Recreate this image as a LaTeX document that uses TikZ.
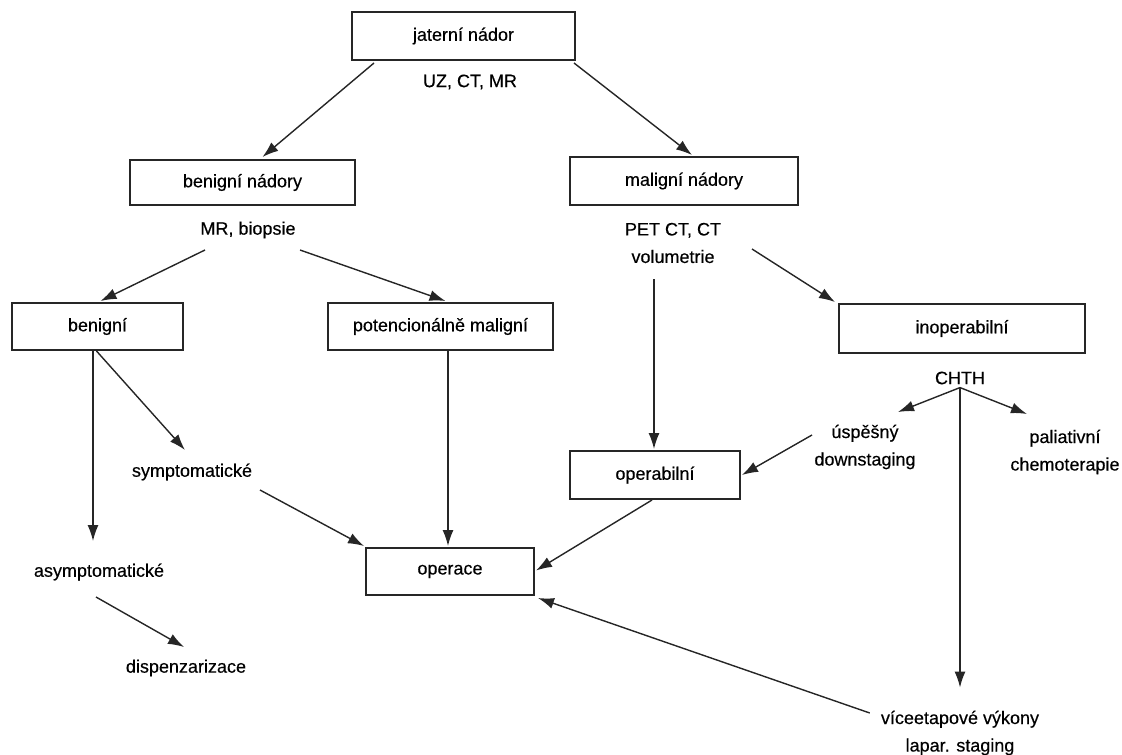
\documentclass[tikz,border=0pt]{standalone}
\usepackage{fontspec}
\setmainfont{Liberation Sans}
\newfontfamily\dfont{Liberation Sans}[FakeBold=0.35]
\usetikzlibrary{arrows.meta,calc}
\begin{document}
\begin{tikzpicture}[x=1pt,y=-1pt,
  font=\dfont\fontsize{18}{27.5}\selectfont,
  box/.style={draw=black!85, line width=2pt, inner sep=0pt},
  lbl/.style={inner sep=1pt, align=center},
  arr/.style={-{Latex[length=16pt,width=11pt]}, line width=1.4pt, draw=black!85, fill=black}]
\useasboundingbox (0,0) rectangle (1122,755);
% boxes
\node[box, minimum width=223, minimum height=48] (jat) at (463.5,36) {jaterní nádor};
\node[box, minimum width=225, minimum height=45] (bn) at (242.5,182.5) {benigní nádory};
\node[box, minimum width=228, minimum height=48] (mn) at (684,181) {maligní nádory};
\node[box, minimum width=171, minimum height=47] (b) at (97.5,326.5) {benigní};
\node[box, minimum width=225, minimum height=47] (pm) at (440.5,326.5) {potencionálně maligní};
\node[box, minimum width=246, minimum height=49] (inop) at (962,328.5) {inoperabilní};
\node[box, minimum width=170, minimum height=48] (op) at (655,475) {operabilní};
\node[box, minimum width=168, minimum height=47] (oper) at (450,571.5) {operace};
% labels
\node[lbl] (uz) at (470,82) {UZ, CT, MR};
\node[lbl] (mrb) at (248,230) {MR, biopsie};
\node[lbl] (pet) at (673,243) {PET CT, CT\\volumetrie};
\node[lbl] (chth) at (960,378) {CHTH};
\node[lbl] (usp) at (865,447) {úspěšný\\downstaging};
\node[lbl] (pal) at (1065,452) {paliativní\\chemoterapie};
\node[lbl] (sym) at (192,472) {symptomatické};
\node[lbl] (asym) at (99,572) {asymptomatické};
\node[lbl] (disp) at (186,668) {dispenzarizace};
\node[lbl] (vice) at (960,733) {víceetapové výkony\\lapar. staging};
% connectors
\draw[arr] ($(jat.south west)+(23,2)$) -- ($(bn.north)+(20,-2)$);
\draw[arr] ($(jat.south east)+(-2,2)$) -- ($(mn.north)+(8,-1)$);
\draw[arr] ($(mrb.center)+(-43,20)$) -- ($(b.north)+(3,-1)$);
\draw[arr] ($(mrb.center)+(52,20)$) -- ($(pm.north)+(5,-1)$);
\draw[arr] ($(pet.center)+(79,6)$) -- ($(inop.north west)+(-3,-1)$);
\draw[arr] ($(op.north)+(-1,-171)$) -- ($(op.north)+(-1,-1)$);
\draw[arr] ($(b.south)+(-4.5,0)$) -- ($(b.south)+(-4.5,190)$);
\draw[arr] ($(b.south)+(-1,0)$) -- ($(sym.center)+(-7,-22)$);
\draw[arr] ($(pm.south)+(7.5,0)$) -- ($(oper.north)+(-2,-1)$);
\draw[arr] ($(sym.center)+(68,18)$) -- ($(oper.north west)+(-1,-1)$);
\draw[arr] ($(op.south)+(-3,0)$) -- ($(oper.east)+(1,-1)$);
\draw[arr] ($(usp.center)+(-53,-12)$) -- ($(op.east)+(1,0)$);
\draw[arr] ($(chth.south)+(0,2)$) -- ($(usp.center)+(33,-35)$);
\draw[arr] ($(chth.south)+(0,2)$) -- ($(pal.center)+(-38,-38)$);
\draw[arr] ($(chth.south)+(0,2)$) -- ($(vice.north)+(0,-22)$);
\draw[arr] ($(vice.west)+(-10,-20)$) -- ($(oper.south east)+(3,2)$);
\draw[arr] ($(asym.center)+(-3,25)$) -- ($(disp.center)+(-2,-21)$);
\end{tikzpicture}
\end{document}
